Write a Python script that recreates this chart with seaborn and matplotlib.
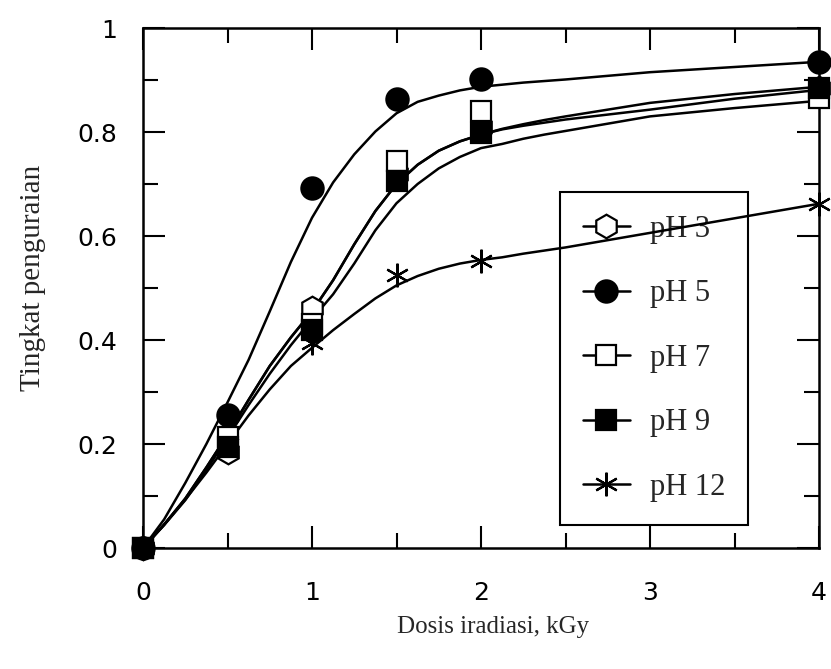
import matplotlib
matplotlib.use("Agg")
import matplotlib.pyplot as plt
import seaborn as sns
import pandas as pd
from matplotlib.lines import Line2D
from matplotlib.ticker import MultipleLocator, FixedLocator, FixedFormatter

# --- data ---
dose = [0, 0.5, 1.0, 1.5, 2.0, 4.0]
ph3 = [0, 0.185, 0.462, 0.72, 0.81, 0.885]
ph5 = [0, 0.255, 0.692, 0.863, 0.902, 0.935]
ph7 = [0, 0.213, 0.43, 0.744, 0.84, 0.865]
ph9 = [0, 0.195, 0.42, 0.705, 0.798, 0.885]
ph12 = [0, 0.20, 0.395, 0.525, 0.552, 0.662]

# fitted curves
curve_x = [0, 0.125, 0.25, 0.375, 0.5, 0.625, 0.75, 0.875, 1.0, 1.125, 1.25,
           1.375, 1.5, 1.625, 1.75, 1.875, 2.0, 2.125, 2.25, 2.375, 2.5,
           3.0, 3.5, 4.0]
curve_ph5 = [0, 0.055, 0.125, 0.2, 0.28, 0.362, 0.455, 0.55, 0.635, 0.703,
             0.757, 0.801, 0.836, 0.858, 0.870, 0.880, 0.887, 0.891, 0.895,
             0.898, 0.901, 0.915, 0.925, 0.935]
curve_ph9 = [0, 0.045, 0.095, 0.155, 0.218, 0.285, 0.35, 0.405, 0.455, 0.515,
             0.584, 0.648, 0.70, 0.737, 0.764, 0.782, 0.795, 0.806, 0.815,
             0.823, 0.83, 0.856, 0.873, 0.887]
curve_ph7 = [0, 0.045, 0.095, 0.155, 0.218, 0.285, 0.35, 0.405, 0.455, 0.515,
             0.584, 0.648, 0.70, 0.737, 0.764, 0.782, 0.795, 0.805, 0.812,
             0.818, 0.824, 0.843, 0.864, 0.881]
curve_ph3 = [0, 0.044, 0.092, 0.15, 0.212, 0.275, 0.335, 0.39, 0.44, 0.488,
             0.547, 0.611, 0.663, 0.70, 0.73, 0.752, 0.769, 0.777, 0.787,
             0.795, 0.802, 0.83, 0.846, 0.86]
curve_ph12 = [0, 0.045, 0.093, 0.145, 0.2, 0.255, 0.305, 0.35, 0.385, 0.419,
              0.45, 0.48, 0.505, 0.523, 0.537, 0.547, 0.554, 0.559, 0.566,
              0.572, 0.578, 0.606, 0.634, 0.662]

labels = ["pH 3", "pH 5", "pH 7", "pH 9", "pH 12"]
xtick_vals = [0, 1, 2, 3, 4]
ytick_vals = [0, 0.2, 0.4, 0.6, 0.8, 1.0]
ytick_labels = ["0", "0.2", "0.4", "0.6", "0.8", "1"]

sns.set_theme(style="ticks")
plt.rcParams["font.family"] = ["DejaVu Sans"]

fig = plt.figure(figsize=(8.31, 6.69), dpi=100)
ax = fig.add_axes([143 / 831, 1 - 548 / 669, 676 / 831, 520 / 669])

points = [ph3, ph5, ph7, ph9, ph12]
curves = [curve_ph3, curve_ph5, curve_ph7, curve_ph9, curve_ph12]
styles = [
    dict(marker="h", ms=17, mfc="white", z=5),
    dict(marker="o", ms=16, mfc="black", z=6),
    dict(marker="s", ms=15, mfc="white", z=7),
    dict(marker="s", ms=15, mfc="black", z=8),
    dict(marker=(6, 2, 0), ms=17, mfc="black", z=4),
]

# fitted curves
for cv in curves:
    sns.lineplot(x=curve_x, y=cv, ax=ax, color="black", lw=1.8, zorder=3,
                 estimator=None, sort=False)

# measured points
for vals, st in zip(points, styles):
    df = pd.DataFrame({"dose": dose, "val": vals})
    sns.lineplot(data=df, x="dose", y="val", ax=ax, linestyle="",
                 marker=st["marker"], markersize=st["ms"],
                 markerfacecolor=st["mfc"], markeredgecolor="black",
                 markeredgewidth=1.6, color="black", clip_on=False,
                 zorder=st["z"], estimator=None)

ax.set_xlim(0, 4)
ax.set_ylim(0, 1)
ax.xaxis.set_major_locator(FixedLocator(xtick_vals))
ax.xaxis.set_minor_locator(MultipleLocator(0.5))
ax.yaxis.set_major_locator(FixedLocator(ytick_vals))
ax.yaxis.set_major_formatter(FixedFormatter(ytick_labels))
ax.yaxis.set_minor_locator(MultipleLocator(0.1))

ax.tick_params(which="both", direction="in", top=True, right=True,
               width=1.5, colors="black")
ax.tick_params(which="major", length=16, labelsize=18)
ax.tick_params(axis="x", which="major", pad=23.5)
ax.tick_params(axis="y", which="major", pad=18.5)
ax.tick_params(which="minor", length=11)
for sp in ax.spines.values():
    sp.set_linewidth(1.8)
    sp.set_color("black")

serif = ["Liberation Serif", "DejaVu Serif"]
ax.set_xlabel("Dosis iradiasi, kGy", fontsize=18, family=serif)
ax.set_ylabel("Tingkat penguraian", fontsize=21, family=serif)
ax.xaxis.set_label_coords(0.518, -0.131)
ax.yaxis.set_label_coords(-0.1435, 0.519)

handles = []
for st in styles:
    handles.append(Line2D([], [], color="black", lw=1.8, marker=st["marker"],
                          markersize=st["ms"], markerfacecolor=st["mfc"],
                          markeredgecolor="black", markeredgewidth=1.6))
leg = ax.legend(handles, labels, loc="upper left",
                bbox_to_anchor=((560 - 143) / 676, (548 - 192) / 520),
                frameon=True, fancybox=False, edgecolor="black",
                facecolor="white", framealpha=1, borderpad=0.75,
                labelspacing=1.16, handlelength=1.54, handletextpad=0.65,
                borderaxespad=0, prop=dict(family=serif, size=22))
leg.get_frame().set_linewidth(1.5)
leg.set_zorder(1)

fig.savefig("out.png", dpi=100)
